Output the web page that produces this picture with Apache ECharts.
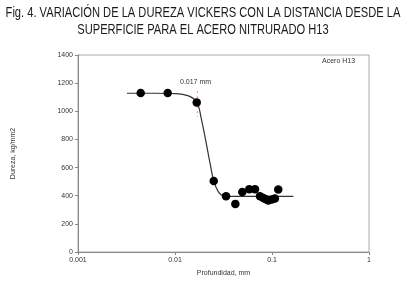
<!DOCTYPE html>
<html>
<head>
<meta charset="utf-8">
<script src="https://cdn.jsdelivr.net/npm/echarts@6/dist/echarts.min.js"></script>
<style>
  html, body { margin: 0; padding: 0; background: #fff; }
  #chart { width: 405px; height: 282px; }
</style>
</head>
<body>
<div id="chart"></div>
<script>
  // datos medidos (profundidad mm, dureza)
  var depth = [0.00443, 0.00841, 0.01675, 0.0251, 0.0336, 0.0419, 0.0494, 0.0583, 0.0668,
               0.0752, 0.0814, 0.0867, 0.0916, 0.0993, 0.107, 0.116];
  var hardness = [1130, 1130, 1063, 505, 396, 342, 427, 446, 446,
                  396, 384, 375, 366, 373, 380, 444];

  // curva ajustada
  var fitX = [0.0032, 0.006, 0.01, 0.012, 0.014, 0.016, 0.0175, 0.0185, 0.0204,
              0.023, 0.0251, 0.028, 0.0315, 0.036, 0.05, 0.1, 0.166];
  var fitY = [1128, 1128, 1126, 1120, 1108, 1082, 1035, 960, 818,
              629, 505, 427, 399, 395, 395, 395, 395];

  var markX = 0.017;
  var markY = [1140, 960];

  var xTicks = [0.001, 0.01, 0.1, 1];
  var yMax = 1400, yStep = 200;

  var FONT = "'Liberation Sans', sans-serif";

  var chart = echarts.init(document.getElementById('chart'));
  chart.setOption({
    animation: false,
    grid: { left: 78, right: 36, top: 55, bottom: 30, show: true, borderColor: '#aaa', borderWidth: 1 },
    xAxis: {
      type: 'log', logBase: 10, min: xTicks[0], max: xTicks[xTicks.length - 1],
      name: 'Profundidad, mm', nameLocation: 'middle', nameGap: 18,
      nameTextStyle: { fontFamily: FONT, fontSize: 7, color: '#333' },
      axisLine: { lineStyle: { color: '#888' } },
      axisTick: { show: true, length: 3, lineStyle: { color: '#888' } },
      minorTick: { show: false },
      splitLine: { show: false },
      axisLabel: { fontFamily: FONT, fontSize: 7, color: '#333', margin: 5,
        formatter: function (v) { return String(+v.toPrecision(1)); } }
    },
    yAxis: {
      type: 'value', min: 0, max: yMax, interval: yStep,
      name: 'Dureza, kg/mm2', nameLocation: 'middle', nameGap: 61,
      nameTextStyle: { fontFamily: FONT, fontSize: 7, color: '#333' },
      axisLine: { show: true, lineStyle: { color: '#888' } },
      axisTick: { show: true, length: 3, lineStyle: { color: '#888' } },
      splitLine: { show: false },
      axisLabel: { fontFamily: FONT, fontSize: 7, color: '#333', margin: 5,
        formatter: function (v) { return String(v); } }
    },
    graphic: [
      { type: 'text', x: 203, y: 5, scaleX: 0.795,
        style: { text: 'Fig. 4. VARIACIÓN DE LA DUREZA VICKERS CON LA DISTANCIA DESDE LA\nSUPERFICIE PARA EL ACERO NITRURADO H13',
                 fontFamily: FONT, fontSize: 14, fill: '#1a1a1a', align: 'center', lineHeight: 17 } },
      { type: 'text', left: 322, top: 58, style: { text: 'Acero H13', fontFamily: FONT, fontSize: 7, fill: '#333' } },
      { type: 'text', left: 180, top: 79, style: { text: '0.017 mm', fontFamily: FONT, fontSize: 7, fill: '#333' } }
    ],
    series: [
      {
        type: 'line', data: fitX.map(function (x, i) { return [x, fitY[i]]; }),
        smooth: 0.4, symbol: 'none', lineStyle: { color: '#333', width: 1.2 }, z: 2
      },
      {
        type: 'line', data: markY.map(function (y) { return [markX, y]; }),
        symbol: 'none', lineStyle: { color: '#e02020', width: 1, type: [1, 4] }, z: 3
      },
      {
        type: 'scatter', data: depth.map(function (x, i) { return [x, hardness[i]]; }),
        symbol: 'circle', symbolSize: 8.5, itemStyle: { color: '#000', opacity: 1 }, z: 4
      }
    ]
  });
</script>
</body>
</html>
